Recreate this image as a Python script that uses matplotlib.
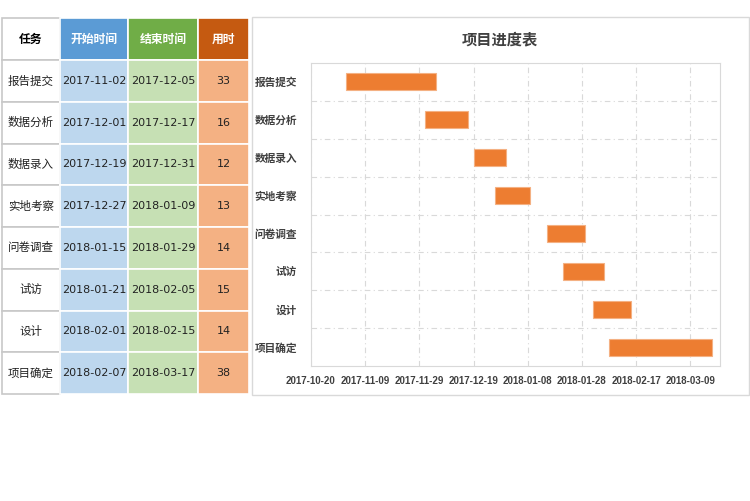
import matplotlib.pyplot as plt
import matplotlib.dates as mdates
from matplotlib.patches import Rectangle
import numpy as np
import pandas as pd

plt.rcParams['font.family'] = ['Noto Sans CJK SC', 'DejaVu Sans']

tasks = ['报告提交', '数据分析', '数据录入', '实地考察', '问卷调查', '试访', '设计', '项目确定']
start_dates = ['2017-11-02', '2017-12-01', '2017-12-19', '2017-12-27',
               '2018-01-15', '2018-01-21', '2018-02-01', '2018-02-07']
end_dates = ['2017-12-05', '2017-12-17', '2017-12-31', '2018-01-09',
             '2018-01-29', '2018-02-05', '2018-02-15', '2018-03-17']
durations = [33, 16, 12, 13, 14, 15, 14, 38]
headers = ['任务', '开始时间', '结束时间', '用时']
tick_dates = ['2017-10-20', '2017-11-09', '2017-11-29', '2017-12-19',
              '2018-01-08', '2018-01-28', '2018-02-17', '2018-03-09']
x_range = ['2017-10-20', '2018-03-20']
title = '项目进度表'

W, H = 750, 501
fig = plt.figure(figsize=(W / 100, H / 100), dpi=100)
fig.patch.set_facecolor('white')

# ---- table on the left, drawn in pixel coordinates ----
tab = fig.add_axes([0, 0, 1, 1])
tab.set_xlim(0, W)
tab.set_ylim(H, 0)
tab.axis('off')

col_x = [2, 60, 128, 198, 249]
row_top, head_h, row_h = 18, 42, 41.75
head_colors = ['white', '#5B9BD5', '#70AD47', '#C55A11']
head_text = ['black', 'white', 'white', 'white']
cell_colors = ['white', '#BDD7EE', '#C6E0B4', '#F4B183']

for c in range(4):
    x0, x1 = col_x[c], col_x[c + 1]
    ec = '#C8C8C8' if c == 0 else 'white'
    tab.add_patch(Rectangle((x0, row_top), x1 - x0, head_h, facecolor=head_colors[c],
                            edgecolor=ec, lw=1.2))
    tab.text((x0 + x1) / 2, row_top + head_h / 2, headers[c], ha='center', va='center',
             fontsize=8.5, fontweight='bold', color=head_text[c])
    for r in range(len(tasks)):
        y0 = row_top + head_h + r * row_h
        tab.add_patch(Rectangle((x0, y0), x1 - x0, row_h, facecolor=cell_colors[c],
                                edgecolor=ec, lw=1.2))
        vals = [tasks[r], start_dates[r], end_dates[r], str(durations[r])]
        fam = ['Noto Sans CJK SC'] if c == 0 else ['DejaVu Sans']
        tab.text((x0 + x1) / 2, y0 + row_h / 2, vals[c], ha='center', va='center',
                 fontsize=8.3 if c == 0 else 8, color='#222222', family=fam)

# chart panel border
tab.add_patch(Rectangle((252, 17), 497, 378, facecolor='white', edgecolor='#D9D9D9', lw=1))
tab.text(500, 39, title, ha='center', va='center', fontsize=11, fontweight='bold',
         color='#404040')

# ---- gantt chart ----
ax = fig.add_axes([311 / W, 1 - 366 / H, 409 / W, 303 / H])
starts = mdates.date2num(pd.to_datetime(start_dates))
ypos = np.arange(len(tasks))
ax.barh(ypos, durations, left=starts, height=0.45, color='#ED7D31',
        edgecolor='#F4B183', lw=0.8, zorder=3)

ax.set_ylim(len(tasks) - 0.5, -0.5)
ax.set_yticks(ypos)
ax.set_yticklabels(tasks, fontsize=7.7, fontweight='bold', color='#404040')
ax.set_yticks(ypos[:-1] + 0.5, minor=True)

ticks = mdates.date2num(pd.to_datetime(tick_dates))
ax.set_xticks(ticks)
ax.set_xticklabels(tick_dates, fontsize=7, fontweight='bold', color='#404040',
                   family=['Liberation Sans'])
lim = mdates.date2num(pd.to_datetime(x_range))
ax.set_xlim(lim[0], lim[1])

ax.tick_params(axis='both', which='both', length=0)
ax.tick_params(axis='y', pad=10)
ax.tick_params(axis='x', pad=7)
ax.grid(axis='x', which='major', color='#D9D9D9', linestyle=(0, (5, 3, 1, 3)), lw=0.8, zorder=0)
ax.grid(axis='y', which='minor', color='#D9D9D9', linestyle=(0, (5, 3, 1, 3)), lw=0.8, zorder=0)
for s in ax.spines.values():
    s.set_color('#D9D9D9')

fig.savefig('out.png', dpi=100)
